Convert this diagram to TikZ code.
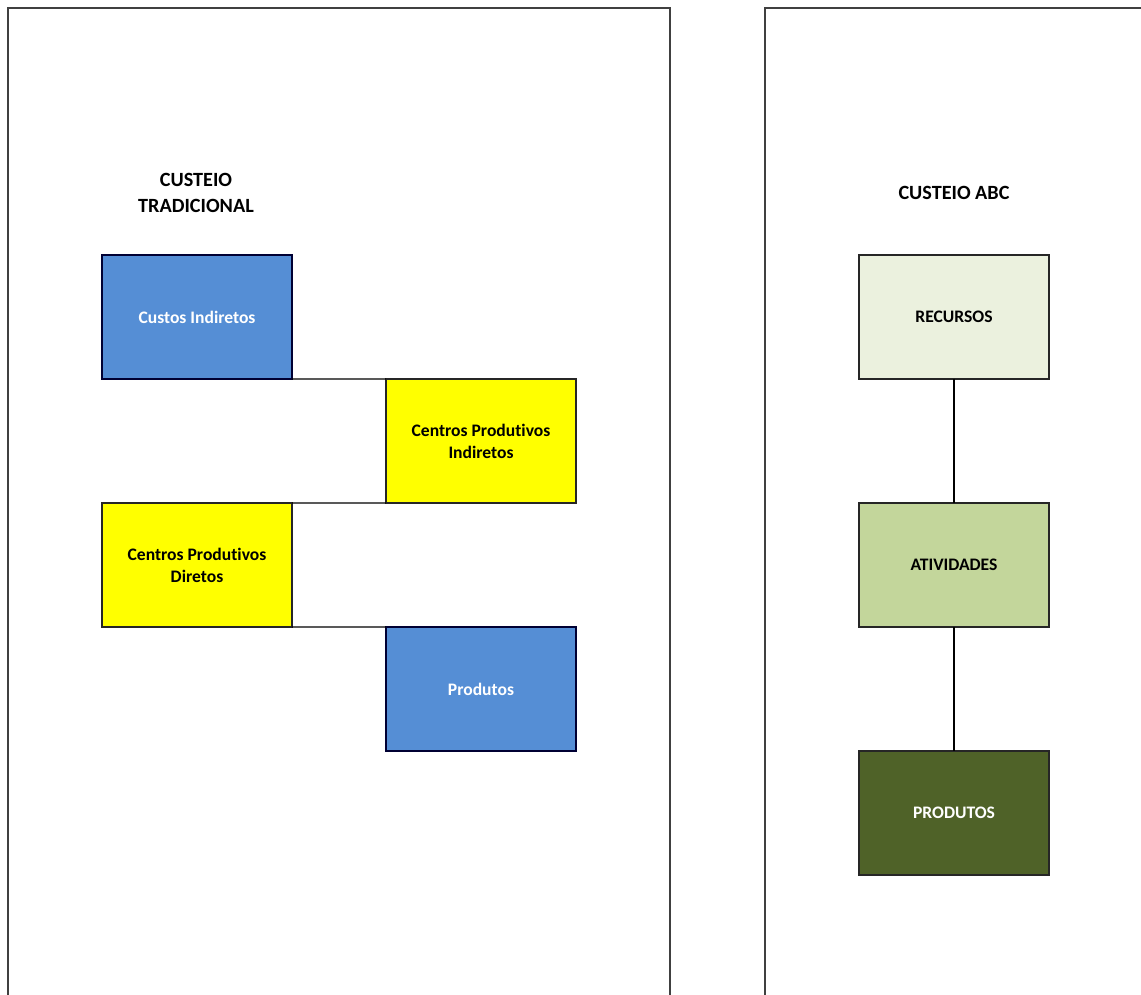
\documentclass[tikz,border=0pt]{standalone}
\usepackage{fontspec}
\setmainfont{Carlito}[Ligatures=NoCommon]
\usepackage{tikz}
\usepackage{xcolor}

\definecolor{azul}{HTML}{558ED5}
\definecolor{amarelo}{HTML}{FFFF00}
\definecolor{verdeclaro}{HTML}{EBF1DE}
\definecolor{verdemedio}{HTML}{C3D69B}
\definecolor{verdeescuro}{HTML}{4F6228}

\tikzset{
	caixa/.style={draw=black!85, line width=0.85pt, outer sep=0pt, minimum width=3.8cm, minimum height=2.48cm, align=center, font=\bfseries\fontsize{10}{12.5}\selectfont},
	titulo/.style={align=center, font=\bfseries\fontsize{11.5}{15}\selectfont},
	painel/.style={draw=black!75, line width=0.75pt},
	liga/.style={draw=black, line width=0.6pt}
}

\begin{document}
\begin{tikzpicture}[x=0.02cm, y=-0.02cm]
	\useasboundingbox (0,0) rectangle (1141,994);
	\clip (0,0) rectangle (1141,994);

		% paineis
	\draw[painel] (8,1010) -- (8,8) -- (670,8) -- (670,1010);
	\draw[painel] (765,1010) -- (765,8) -- (1160,8);

		% custeio tradicional
	\node[titulo] (titTrad) at (196,193) {CUSTEIO\\TRADICIONAL};
	\node[caixa, fill=azul, draw=black!80!blue, text=white] (custInd) at (197,317) {Custos Indiretos};
	\node[caixa, fill=amarelo] (cpInd) at (481,441) {Centros Produtivos\\Indiretos};
	\node[caixa, fill=amarelo] (cpDir) at (197,565) {Centros Produtivos\\Diretos};
	\node[caixa, fill=azul, draw=black!80!blue, text=white] (prodTrad) at (481,689) {Produtos};
	\draw[liga] (custInd.south east) -- (cpInd.north west);
	\draw[liga] (cpInd.south west) -- (cpDir.north east);
	\draw[liga] (cpDir.south east) -- (prodTrad.north west);

		% custeio abc
	\node[titulo] (titAbc) at (954,193) {CUSTEIO ABC};
	\node[caixa, fill=verdeclaro] (recursos) at (954,317) {RECURSOS};
	\node[caixa, fill=verdemedio] (atividades) at (954,565) {ATIVIDADES};
	\node[caixa, fill=verdeescuro, text=white] (prodAbc) at (954,813) {PRODUTOS};
	\draw[liga] (recursos) -- (atividades);
	\draw[liga] (atividades) -- (prodAbc);

\end{tikzpicture}
\end{document}
